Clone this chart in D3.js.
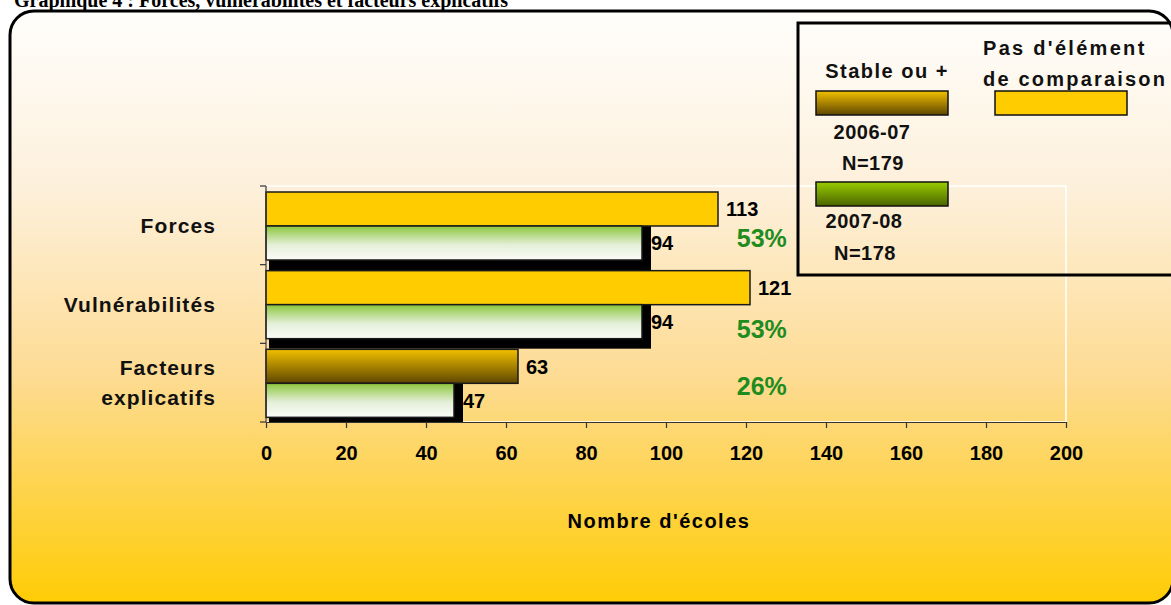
<!DOCTYPE html>
<html><head><meta charset="utf-8">
<script src="https://cdn.jsdelivr.net/npm/d3@7/dist/d3.min.js"></script>
<style>
html,body{margin:0;padding:0;background:#fff;}
svg{display:block;}
text{font-family:"Liberation Sans",Arial,sans-serif;font-weight:bold;}
</style></head>
<body>
<script>
// ---- data ----
const categories = ["Forces", "Vulnérabilités", "Facteurs explicatifs"];
const pasElement = [113, 121, null];      // Pas d'élément de comparaison
const stable0607 = [null, null, 63];      // Stable ou + 2006-07
const stable0708 = [94, 94, 47];          // Stable ou + 2007-08
const percentLabels = ["53%", "53%", "26%"];
const xTicks = [0, 20, 40, 60, 80, 100, 120, 140, 160, 180, 200];
const legendLabels = ["Stable ou  +", "Pas d'élément", "de comparaison", "2006-07", "N=179", "2007-08", "N=178"];
const titleText = "Graphique 4 : Forces, vulnérabilités et facteurs explicatifs";
const axisTitle = "Nombre d'écoles";

// ---- layout ----
const W = 1171, H = 605;
const plot = {left: 266, right: 1066, top: 186, bottom: 422};
const pctDy = [61, 73, 52];

const svg = d3.select("body").append("svg").attr("width", W).attr("height", H);
const defs = svg.append("defs");

function grad(id, stops) {
  const g = defs.append("linearGradient").attr("id", id)
    .attr("x1", 0).attr("y1", 0).attr("x2", 0).attr("y2", 1);
  stops.forEach(s => g.append("stop").attr("offset", s[0]).attr("stop-color", s[1]));
}
grad("bg", [[0, "#fffefc"], [0.3, "#fdf0db"], [0.62, "#fddb92"], [1, "#ffcc05"]]);
grad("greenBar", [[0, "#8cc63c"], [0.55, "#e4efd8"], [1, "#fbfcf8"]]);
grad("goldBar", [[0, "#f2c000"], [1, "#5e4600"]]);
grad("greenSw", [[0, "#99cc00"], [1, "#4a6400"]]);
defs.append("clipPath").attr("id", "plotClip").append("rect")
  .attr("x", plot.left).attr("y", plot.top - 10)
  .attr("width", plot.right - plot.left + 20).attr("height", plot.bottom - plot.top + 10);

// title (cut at top, as in the reference)
svg.append("text").attr("x", 14).attr("y", 7)
  .style("font-family", '"Liberation Serif","Times New Roman",serif')
  .style("font-size", "20px").text(titleText);

// frame
svg.append("rect").attr("x", 10).attr("y", 11).attr("width", 1163).attr("height", 592)
  .attr("rx", 24).attr("fill", "url(#bg)").attr("stroke", "#000").attr("stroke-width", 3);

// scales
const x = d3.scaleLinear().domain([0, 200]).range([plot.left, plot.right]);
const y = d3.scaleBand().domain(categories).range([plot.top, plot.bottom]).paddingInner(0).paddingOuter(0);
const inner = d3.scaleBand().domain(["top", "bottom"]).range([6, 74]);

// plot area white border
svg.append("rect").attr("x", plot.left).attr("y", plot.top)
  .attr("width", plot.right - plot.left).attr("height", plot.bottom - plot.top)
  .attr("fill", "none").attr("stroke", "#fff").attr("stroke-width", 1.5);

const rows = categories.map((c, i) => ({
  cat: c, pas: pasElement[i], s67: stable0607[i], s78: stable0708[i], pct: percentLabels[i], i
}));

// shadows
const gSh = svg.append("g").attr("clip-path", "url(#plotClip)");
gSh.selectAll("rect").data(rows).join("rect")
  .attr("x", d => x(0) + 3)
  .attr("y", d => y(d.cat) + inner("bottom"))
  .attr("width", d => x(d.s78) - x(0) + 6)
  .attr("height", d => inner.bandwidth() + 10)
  .attr("fill", "#000");

// top bars
const topRows = rows.map(d => ({...d, v: d.pas != null ? d.pas : d.s67, fill: d.pas != null ? "#ffcc00" : "url(#goldBar)"}));
svg.append("g").selectAll("rect").data(topRows).join("rect")
  .attr("x", x(0))
  .attr("y", d => y(d.cat) + inner("top"))
  .attr("width", d => x(d.v) - x(0))
  .attr("height", inner.bandwidth())
  .attr("fill", d => d.fill).attr("stroke", "#1a1a1a").attr("stroke-width", 1.5);

// green bars
svg.append("g").selectAll("rect").data(rows).join("rect")
  .attr("x", x(0))
  .attr("y", d => y(d.cat) + inner("bottom"))
  .attr("width", d => x(d.s78) - x(0))
  .attr("height", inner.bandwidth())
  .attr("fill", "url(#greenBar)").attr("stroke", "#1a1a1a").attr("stroke-width", 1.5);

// value labels
svg.append("g").selectAll("text").data(topRows).join("text")
  .attr("x", d => x(d.v) + 8)
  .attr("y", d => y(d.cat) + inner("top") + inner.bandwidth() / 2)
  .attr("dy", "0.36em").style("font-size", "20px").attr("fill", "#000")
  .text(d => d.v);
svg.append("g").selectAll("text").data(rows).join("text")
  .attr("x", d => x(d.s78) + 9)
  .attr("y", d => y(d.cat) + inner("bottom") + inner.bandwidth() / 2)
  .attr("dy", "0.36em").style("font-size", "20px").attr("fill", "#000")
  .text(d => d.s78);

// percent labels
svg.append("g").selectAll("text").data(rows).join("text")
  .attr("x", x(117.7))
  .attr("y", d => y(d.cat) + pctDy[d.i])
  .style("font-size", "25px").attr("fill", "#1e8c1e")
  .text(d => d.pct);

// y axis
const yAxis = svg.append("g");
yAxis.append("line").attr("x1", plot.left).attr("x2", plot.left)
  .attr("y1", plot.top).attr("y2", plot.bottom).attr("stroke", "#333").attr("stroke-width", 1.2);
const yTickPos = categories.map(c => y(c)).concat([plot.bottom]);
yAxis.selectAll("line.t").data(yTickPos).join("line").attr("class", "t")
  .attr("x1", plot.left - 6).attr("x2", plot.left).attr("y1", d => d).attr("y2", d => d)
  .attr("stroke", "#333").attr("stroke-width", 1.2);

// category labels
const catLines = [["Forces"], ["Vulnérabilités"], ["Facteurs", "explicatifs"]];
const catText = svg.append("g").selectAll("text").data(rows).join("text")
  .attr("text-anchor", "end").style("font-size", "21px").style("letter-spacing", "1.1px")
  .attr("fill", "#111");
catText.each(function(d) {
  const lines = catLines[d.i];
  const cy = y(d.cat) + y.bandwidth() / 2;
  const t = d3.select(this);
  lines.forEach((l, k) => {
    t.append("tspan").attr("x", 216)
      .attr("y", cy + (k - (lines.length - 1) / 2) * 30)
      .attr("dy", "0.36em").text(l);
  });
});

// x axis
const xAxisG = svg.append("g").attr("transform", `translate(0,${plot.bottom})`)
  .call(d3.axisBottom(x).tickValues(xTicks).tickSize(6).tickPadding(18).tickSizeOuter(0));
xAxisG.select(".domain").attr("stroke", "#333").attr("stroke-width", 1.2);
xAxisG.selectAll(".tick line").attr("stroke", "#333").attr("stroke-width", 1.2);
xAxisG.selectAll(".tick text").style("font-size", "20px").style("font-family", '"Liberation Sans",Arial,sans-serif')
  .style("font-weight", "bold").attr("fill", "#000");

svg.append("text").attr("x", 659).attr("y", 528).attr("text-anchor", "middle")
  .style("font-size", "20px").style("letter-spacing", "1.5px").attr("fill", "#000").text(axisTitle);

// legend
const lg = svg.append("g");
lg.append("rect").attr("x", 798).attr("y", 23).attr("width", 400).attr("height", 252)
  .attr("fill", "none").attr("stroke", "#000").attr("stroke-width", 3);
const legTexts = [
  {t: legendLabels[0], x: 887, y: 78, a: "middle", ls: "1.5px"},
  {t: legendLabels[1], x: 983, y: 55, a: "start", ls: "2.3px"},
  {t: legendLabels[2], x: 983, y: 86, a: "start", ls: "2.2px"},
  {t: legendLabels[3], x: 872, y: 139, a: "middle", ls: "0.5px"},
  {t: legendLabels[4], x: 873, y: 170, a: "middle", ls: "0.5px"},
  {t: legendLabels[5], x: 864, y: 228, a: "middle", ls: "0.5px"},
  {t: legendLabels[6], x: 865, y: 260, a: "middle", ls: "0.5px"}
];
lg.selectAll("text").data(legTexts).join("text")
  .attr("x", d => d.x).attr("y", d => d.y).attr("text-anchor", d => d.a)
  .style("font-size", "20px").style("letter-spacing", d => d.ls)
  .attr("fill", "#111").text(d => d.t);
const swatches = [
  {x: 816, y: 91, f: "url(#goldBar)"},
  {x: 995, y: 91, f: "#ffcc00"},
  {x: 816, y: 182, f: "url(#greenSw)"}
];
lg.selectAll("rect.sw").data(swatches).join("rect").attr("class", "sw")
  .attr("x", d => d.x).attr("y", d => d.y).attr("width", 132).attr("height", 24)
  .attr("fill", d => d.f).attr("stroke", "#111").attr("stroke-width", 1.5);
</script>
</body></html>
